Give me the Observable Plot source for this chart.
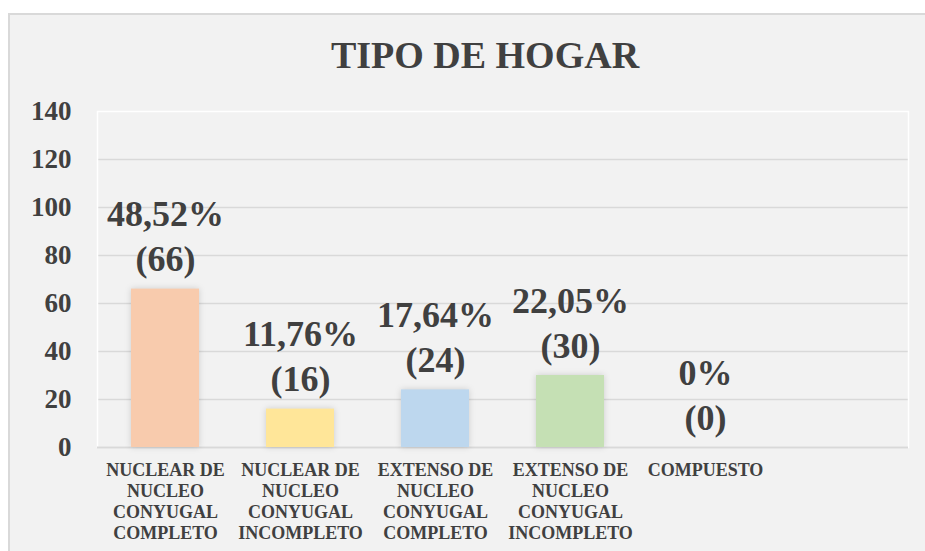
<!DOCTYPE html>
<html>
<head>
<meta charset="utf-8">
<script src="https://cdn.jsdelivr.net/npm/d3@7"></script>
<script src="https://cdn.jsdelivr.net/npm/@observablehq/plot@0.6"></script>
<style>
  html, body { margin: 0; padding: 0; background: #ffffff; width: 925px; height: 551px; overflow: hidden; }
  #frame { position: absolute; left: 8px; top: 13px; width: 940px; height: 560px; background: #F2F2F2; border: 2px solid #D9D9D9; box-sizing: border-box; }
  #title { position: absolute; left: 0; top: 36px; width: 970px; text-align: center; font-family: "Liberation Serif", "Times New Roman", serif; font-weight: bold; font-size: 38px; line-height: 38px; color: #404040; margin: 0; }
  #chart { position: absolute; left: 0; top: 0; }
</style>
</head>
<body>
<div id="frame"></div>
<div id="title">TIPO DE HOGAR</div>
<div id="chart"></div>
<script>
const categories = [
  "NUCLEAR DE\nNUCLEO\nCONYUGAL\nCOMPLETO",
  "NUCLEAR DE\nNUCLEO\nCONYUGAL\nINCOMPLETO",
  "EXTENSO DE\nNUCLEO\nCONYUGAL\nCOMPLETO",
  "EXTENSO DE\nNUCLEO\nCONYUGAL\nINCOMPLETO",
  "COMPUESTO"
];
const counts = [66, 16, 24, 30, 0];
const percents = ["48,52%", "11,76%", "17,64%", "22,05%", "0%"];
const colors = ["#F8CBAD", "#FFE699", "#BDD7EE", "#C5E0B4", "#F4B183"];
const yTicks = [0, 20, 40, 60, 80, 100, 120, 140];

const data = categories.map((c, i) => ({cat: c, value: counts[i], pct: percents[i], color: colors[i]}));
const font = "'Liberation Serif', 'Times New Roman', serif";

const plot = Plot.plot({
  width: 925,
  height: 551,
  marginLeft: 97,
  marginRight: 17,
  marginTop: 111,
  marginBottom: 104,
  style: {background: "transparent", fontFamily: font, color: "#404040", overflow: "visible"},
  x: {domain: [...categories, ""], paddingInner: 0.5, paddingOuter: 0.25, label: null},
  y: {domain: [0, 140], label: null},
  marks: [
    Plot.ruleY(yTicks.slice(1, -1), {stroke: "#D9D9D9", strokeWidth: 1.5}),
    Plot.frame({stroke: "#ffffff", strokeWidth: 1.5}),
    Plot.ruleY([0], {stroke: "#D9D9D9", strokeWidth: 2}),
    Plot.barY(data, {x: "cat", y: "value", fill: "color"}),
    Plot.text(data, {
      x: "cat", y: "value",
      text: d => `${d.pct}\n(${d.value})`,
      lineAnchor: "bottom", dy: -18,
      fontSize: 36, lineHeight: 1.25, fontWeight: "bold", fill: "#404040"
    }),
    Plot.axisY({ticks: yTicks, tickSize: 0, tickPadding: 26, fontSize: 27, fontWeight: "bold", fill: "#404040", label: null}),
    Plot.axisX({tickSize: 0, tickPadding: 13, fontSize: 18, lineHeight: 1.18, fontWeight: "bold", fill: "#404040", label: null, tickFormat: d => d})
  ]
});

d3.select(plot).selectAll("g[aria-label=bar] rect")
  .style("filter", "drop-shadow(0px 0px 3px rgba(0,0,0,0.15))");

document.getElementById("chart").appendChild(plot);
</script>
</body>
</html>
